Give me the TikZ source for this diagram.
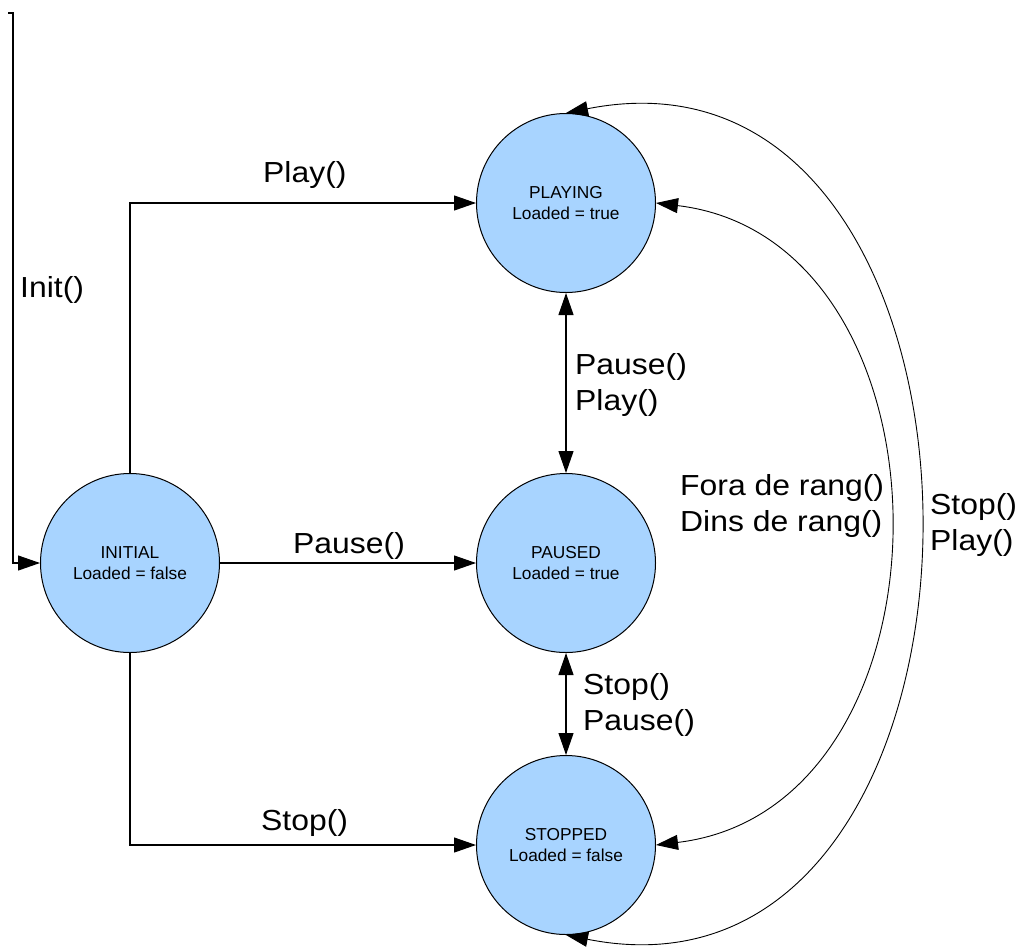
\documentclass[tikz,border=0pt]{standalone}
\usepackage{fontspec}
\setmainfont{Liberation Sans}
\newfontfamily\labelfont[FakeStretch=1.1]{Liberation Sans}
\usetikzlibrary{arrows.meta}
\definecolor{statefill}{RGB}{168,212,255}
\begin{document}
\begin{tikzpicture}[x=1pt,y=-1pt,
  state/.style={circle, draw, line width=1pt, fill=statefill, minimum size=179pt,
    inner sep=0pt, align=center, font=\fontsize{17.3}{21}\selectfont},
  tip/.tip={Triangle[length=22pt,width=15pt]},
  trans/.style={line width=1.1pt, -tip},
  both/.style={line width=1.1pt, tip-tip},
  arc/.style={line width=0.9pt, tip-tip},
  lbl/.style={anchor=west, inner sep=0pt, align=left,
    font=\labelfont\fontsize{29}{36}\selectfont}]
\useasboundingbox (0,0) rectangle (1019,948);
\fill[white] (0,0) rectangle (1019,948);

% states
\node[state] (playing) at (566,203) {PLAYING\\Loaded = true};
\node[state] (paused)  at (566,563) {PAUSED\\Loaded = true};
\node[state] (stopped) at (566,845) {STOPPED\\Loaded = false};
\node[state] (initial) at (130,563) {INITIAL\\Loaded = false};

% entry transition
\coordinate (initstart) at (8,13);
\draw[trans] (initstart) -- ++(5,0) |- (initial.west);

% transitions out of INITIAL
\draw[trans] (initial.north) |- (playing.west);
\draw[trans] (initial.east) -- (paused.west);
\draw[trans] (initial.south) |- (stopped.west);

% transitions between the loaded states
\draw[both] (playing) -- (paused);
\draw[both] (paused) -- (stopped);
\draw[arc] (playing.east) .. controls +(309,37) and +(309,-37) .. (stopped.east);
\draw[arc] (playing.north) .. controls +(469,-93) and +(469,93) .. (stopped.south);

% labels
\node[lbl] (linit)   at (20,290)  {Init()};
\node[lbl] (lplay)   at (263,175) {Play()};
\node[lbl] (lpause)  at (293,546) {Pause()};
\node[lbl] (lstop)   at (261,823) {Stop()};
\node[lbl] (lpp)     at (575,385) {Pause()\\Play()};
\node[lbl] (lsp)     at (583,705) {Stop()\\Pause()};
\node[lbl] (lrange)  at (680,506) {Fora de rang()\\Dins de rang()};
\node[lbl] (lstopplay) at (930,525) {Stop()\\Play()};
\end{tikzpicture}
\end{document}
